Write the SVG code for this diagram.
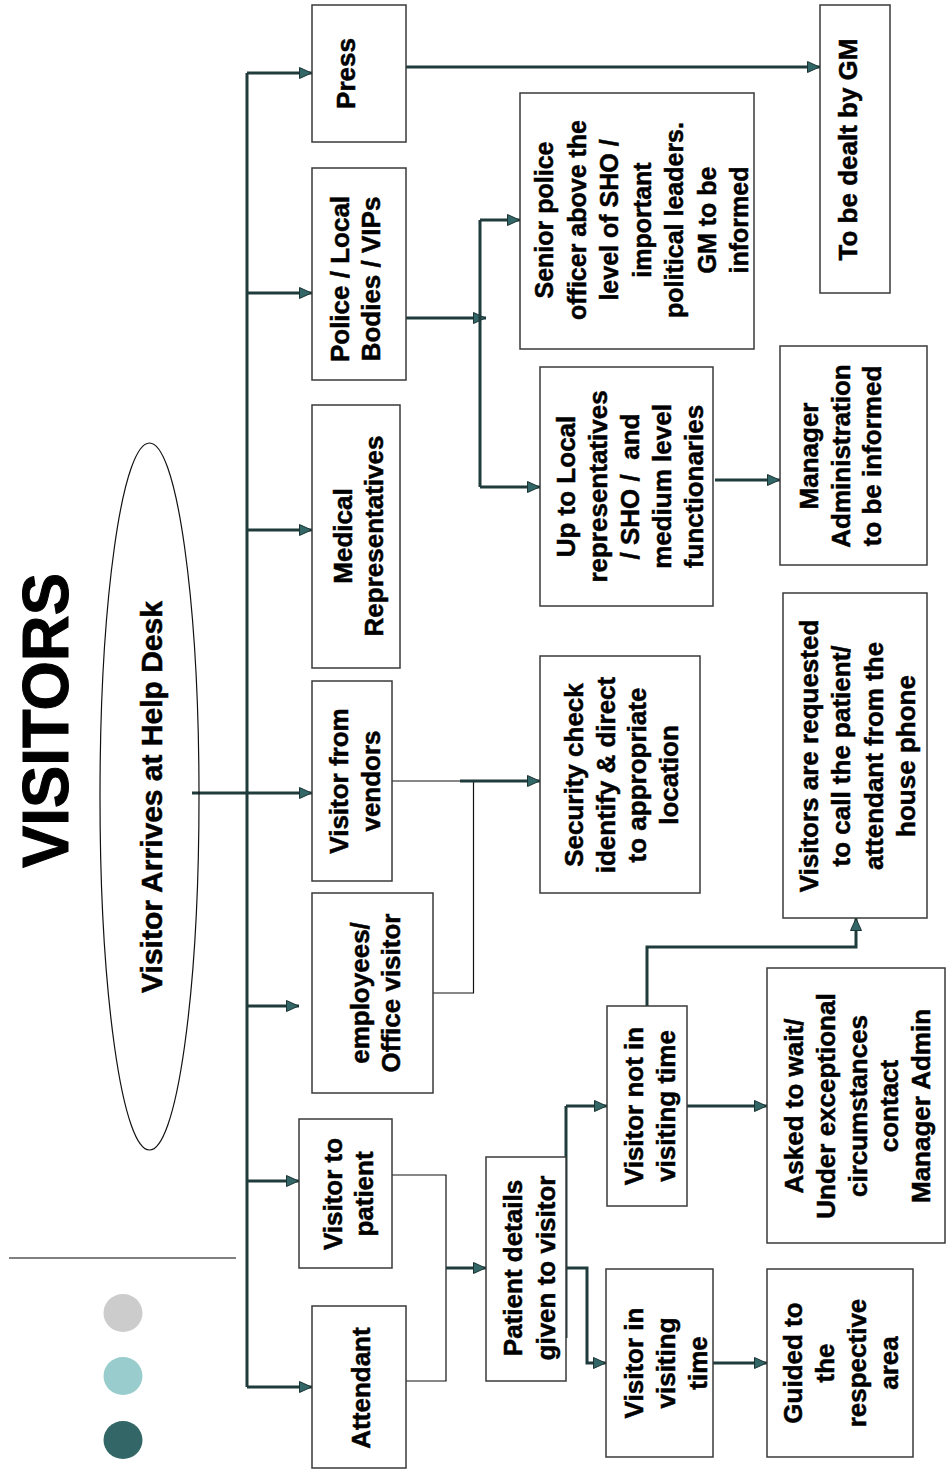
<svg xmlns="http://www.w3.org/2000/svg" width="946" height="1472" viewBox="0 0 946 1472">
  <style>
    .box { fill: #ffffff; stroke: #3a3a3a; stroke-width: 1.5; }
    .lbl { font-family: "Liberation Sans", Arial, sans-serif; font-weight: bold; font-size: 26px; fill: #000000; stroke: #000000; stroke-width: 0.5; text-anchor: middle; }
    .flow { fill: none; stroke: #1f3b3b; stroke-width: 3; stroke-linejoin: miter; }
    .thin { fill: none; stroke: #111111; stroke-width: 1.2; }
  </style>
  <defs>
    <marker id="arr" viewBox="0 0 13 12" refX="13" refY="6" markerWidth="13" markerHeight="12" markerUnits="userSpaceOnUse" orient="auto">
      <path d="M0.5,0.5 L12.5,6 L0.5,11.5 z" fill="#336666" stroke="#1a3333" stroke-width="1"/>
    </marker>
  </defs>

  <rect width="946" height="1472" fill="#ffffff"/>

  <!-- title -->
  <text id="title" class="lbl" textLength="295" lengthAdjust="spacingAndGlyphs" transform="translate(68,720.5) rotate(-90)" style="font-size:64px;stroke-width:1">VISITORS</text>

  <!-- decoration: divider and dots -->
  <g id="decor">
    <line x1="9" y1="1258" x2="236" y2="1258" stroke="#808080" stroke-width="2"/>
    <ellipse cx="123" cy="1313" rx="19.5" ry="19" fill="#cccccc"/>
    <ellipse cx="123" cy="1376" rx="19.5" ry="19" fill="#99cccc"/>
    <ellipse cx="123" cy="1440" rx="19.5" ry="19" fill="#336666"/>
  </g>

  <!-- connectors -->
  <g id="connectors">
    <path class="flow" d="M247,73 V1387" stroke-width="3.5"/>
    <path class="flow" d="M247,73 H312" marker-end="url(#arr)"/>
    <path class="flow" d="M247,293 H312" marker-end="url(#arr)"/>
    <path class="flow" d="M247,530 H312" marker-end="url(#arr)"/>
    <path class="flow" d="M192,793 H312" marker-end="url(#arr)"/>
    <path class="flow" d="M247,1006 H299" marker-end="url(#arr)"/>
    <path class="flow" d="M247,1181 H299" marker-end="url(#arr)"/>
    <path class="flow" d="M247,1387 H312" marker-end="url(#arr)"/>

    <path class="flow" d="M406,67 H820" marker-end="url(#arr)"/>

    <path class="flow" d="M406,318 H486" marker-end="url(#arr)"/>
    <path class="flow" d="M480,220 V487"/>
    <path class="flow" d="M480,220 H520" marker-end="url(#arr)"/>
    <path class="flow" d="M480,487 H540" marker-end="url(#arr)"/>
    <path class="flow" d="M715,480 H780" marker-end="url(#arr)"/>

    <path class="thin" d="M392,781 H460"/>
    <path class="thin" d="M473.5,781 V993 H433"/>
    <path class="flow" d="M460,781 H540" marker-end="url(#arr)"/>

    <path class="thin" d="M392,1175 H446 V1381 H393"/>
    <path class="flow" d="M446,1268 H486" marker-end="url(#arr)"/>

    <path class="flow" d="M566,1106 V1338"/>
    <path class="flow" d="M566,1106 H607" marker-end="url(#arr)"/>
    <path class="flow" d="M566,1268 H587 V1363 H606" marker-end="url(#arr)"/>
    <path class="flow" d="M687,1106 H767" marker-end="url(#arr)"/>
    <path class="flow" d="M713,1363 H767" marker-end="url(#arr)"/>
    <path class="flow" d="M647,1006 V947 H856 V918" marker-end="url(#arr)"/>
  </g>

  <!-- start node -->
  <g id="help-desk">
    <ellipse cx="149.5" cy="796.5" rx="49.5" ry="353.5" fill="none" stroke="#111111" stroke-width="1.2"/>
    <text class="lbl" transform="translate(162,797) rotate(-90)" style="font-size:30px">Visitor Arrives at Help Desk</text>
  </g>

  <!-- visitor categories -->
  <g id="press">
    <rect class="box" x="312" y="5" width="94" height="137"/>
    <text class="lbl" transform="translate(355,73.5) rotate(-90)">Press</text>
  </g>
  <g id="police">
    <rect class="box" x="312" y="168" width="94" height="212"/>
    <text class="lbl" transform="translate(349,279) rotate(-90)"><tspan x="0" y="0">Police / Local</tspan><tspan x="0" y="31">Bodies / VIPs</tspan></text>
  </g>
  <g id="medical">
    <rect class="box" x="312" y="405" width="88" height="263"/>
    <text class="lbl" transform="translate(352,536) rotate(-90)"><tspan x="0" y="0">Medical</tspan><tspan x="0" y="31">Representatives</tspan></text>
  </g>
  <g id="vendors">
    <rect class="box" x="312" y="681" width="80" height="200"/>
    <text class="lbl" transform="translate(348,781) rotate(-90)"><tspan x="0" y="0">Visitor from</tspan><tspan x="0" y="32">vendors</tspan></text>
  </g>
  <g id="employees">
    <rect class="box" x="312" y="893" width="121" height="200"/>
    <text class="lbl" transform="translate(369,993) rotate(-90)"><tspan x="0" y="0">employees/</tspan><tspan x="0" y="31">Office visitor</tspan></text>
  </g>
  <g id="visitor-to-patient">
    <rect class="box" x="299" y="1119" width="93" height="149"/>
    <text class="lbl" transform="translate(342,1194) rotate(-90)"><tspan x="0" y="0">Visitor to</tspan><tspan x="0" y="31">patient</tspan></text>
  </g>
  <g id="attendant">
    <rect class="box" x="312" y="1306" width="94" height="162"/>
    <text class="lbl" transform="translate(370,1388) rotate(-90)">Attendant</text>
  </g>

  <!-- outcomes -->
  <g id="gm">
    <rect class="box" x="820" y="5" width="70" height="288"/>
    <text class="lbl" transform="translate(857,149.5) rotate(-90)">To be dealt by GM</text>
  </g>
  <g id="senior-police">
    <rect class="box" x="520" y="93" width="234" height="256"/>
    <text class="lbl" transform="translate(553,220) rotate(-90)" style="font-size:25px"><tspan x="0" y="0">Senior police</tspan><tspan x="0" y="32.5">officer above the</tspan><tspan x="0" y="65">level of SHO /</tspan><tspan x="0" y="97.5">important</tspan><tspan x="0" y="130">political leaders.</tspan><tspan x="0" y="162.5">GM to be</tspan><tspan x="0" y="195">informed</tspan></text>
  </g>
  <g id="local-reps">
    <rect class="box" x="540" y="367" width="173" height="239"/>
    <text class="lbl" transform="translate(575,486.5) rotate(-90)"><tspan x="0" y="0">Up to Local</tspan><tspan x="0" y="32">representatives</tspan><tspan x="0" y="64">/ SHO /&#160; and</tspan><tspan x="0" y="96">medium level</tspan><tspan x="0" y="128">functionaries</tspan></text>
  </g>
  <g id="manager-admin">
    <rect class="box" x="780" y="346" width="147" height="219"/>
    <text class="lbl" transform="translate(818,456) rotate(-90)"><tspan x="0" y="0">Manager</tspan><tspan x="0" y="31.5">Administration</tspan><tspan x="0" y="63">to be informed</tspan></text>
  </g>
  <g id="security">
    <rect class="box" x="540" y="656" width="160" height="237"/>
    <text class="lbl" transform="translate(583,775) rotate(-90)"><tspan x="0" y="0">Security check</tspan><tspan x="0" y="31.7">identify &amp; direct</tspan><tspan x="0" y="63.4">to appropriate</tspan><tspan x="0" y="95">location</tspan></text>
  </g>
  <g id="house-phone">
    <rect class="box" x="783" y="593" width="144" height="325"/>
    <text class="lbl" transform="translate(818,756) rotate(-90)"><tspan x="0" y="0">Visitors are requested</tspan><tspan x="0" y="32.3">to call the patient/</tspan><tspan x="0" y="64.6">attendant from the</tspan><tspan x="0" y="97">house phone</tspan></text>
  </g>
  <g id="patient-details">
    <rect class="box" x="486" y="1157" width="80" height="224"/>
    <text class="lbl" transform="translate(522,1268) rotate(-90)"><tspan x="0" y="0">Patient details</tspan><tspan x="0" y="32.5">given to visitor</tspan></text>
  </g>
  <g id="not-visiting-time">
    <rect class="box" x="607" y="1006" width="80" height="200"/>
    <text class="lbl" transform="translate(643,1106) rotate(-90)"><tspan x="0" y="0">Visitor not in</tspan><tspan x="0" y="32">visiting time</tspan></text>
  </g>
  <g id="asked-to-wait">
    <rect class="box" x="767" y="968" width="178" height="275"/>
    <text class="lbl" transform="translate(803,1106) rotate(-90)"><tspan x="0" y="0">Asked to wait/</tspan><tspan x="0" y="31.75">Under exceptional</tspan><tspan x="0" y="63.5">circumstances</tspan><tspan x="0" y="95.25">contact</tspan><tspan x="0" y="127">Manager Admin</tspan></text>
  </g>
  <g id="in-visiting-time">
    <rect class="box" x="606" y="1269" width="107" height="188"/>
    <text class="lbl" transform="translate(643,1363) rotate(-90)"><tspan x="0" y="0">Visitor in</tspan><tspan x="0" y="32">visiting</tspan><tspan x="0" y="64">time</tspan></text>
  </g>
  <g id="guided">
    <rect class="box" x="767" y="1269" width="146" height="188"/>
    <text class="lbl" transform="translate(802,1363) rotate(-90)"><tspan x="0" y="0">Guided to</tspan><tspan x="0" y="32">the</tspan><tspan x="0" y="64">respective</tspan><tspan x="0" y="96">area</tspan></text>
  </g>
</svg>
